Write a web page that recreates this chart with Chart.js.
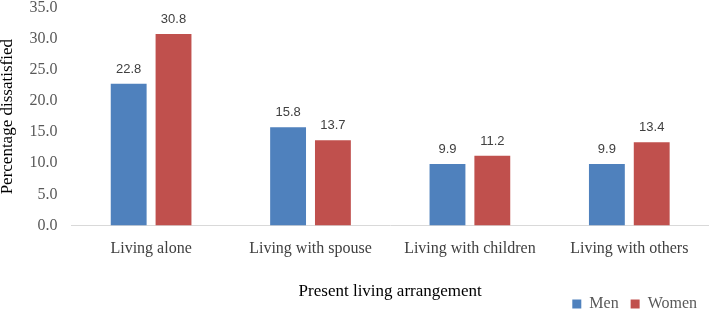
<!DOCTYPE html>
<html lang="en">
<head>
<meta charset="UTF-8">
<title>Living arrangement chart</title>
<script src="https://cdn.jsdelivr.net/npm/chart.js"></script>
<style>
  html, body { margin: 0; padding: 0; background: #ffffff; }
  #wrap { width: 709px; height: 312px; position: relative; }
</style>
</head>
<body>
<div id="wrap"><canvas id="chart"></canvas></div>
<script>
  // chart data
  const categories = ['Living alone', 'Living with spouse', 'Living with children', 'Living with others'];
  const menValues = [22.8, 15.8, 9.9, 9.9];
  const womenValues = [30.8, 13.7, 11.2, 13.4];
  const seriesNames = ['Men', 'Women'];

  const serif = '"Liberation Serif", "Times New Roman", serif';

  // draws the value above each bar
  const valueLabels = {
    id: 'valueLabels',
    afterDatasetsDraw(chart) {
      const ctx = chart.ctx;
      ctx.save();
      ctx.font = '13px "Liberation Sans", Arial, sans-serif';
      ctx.fillStyle = '#404040';
      ctx.textAlign = 'center';
      ctx.textBaseline = 'bottom';
      chart.data.datasets.forEach((ds, i) => {
        chart.getDatasetMeta(i).data.forEach((bar, j) => {
          ctx.fillText(ds.data[j].toFixed(1), bar.x, bar.y - 8);
        });
      });
      ctx.restore();
    }
  };

  new Chart(document.getElementById('chart'), {
    type: 'bar',
    data: {
      labels: categories,
      datasets: [
        { label: seriesNames[0], data: menValues, backgroundColor: '#4F81BD' },
        { label: seriesNames[1], data: womenValues, backgroundColor: '#C0504D' }
      ]
    },
    options: {
      responsive: true,
      maintainAspectRatio: false,
      animation: false,
      layout: { padding: { left: -3, right: 0, top: 0, bottom: 0 } },
      datasets: { bar: { categoryPercentage: 0.5625, barPercentage: 0.8 } },
      scales: {
        x: {
          grid: { display: false, drawTicks: false },
          border: { color: '#d9d9d9', width: 1 },
          ticks: { color: '#404040', font: { family: serif, size: 16 }, padding: 14 },
          title: {
            display: true,
            text: 'Present living arrangement',
            color: '#000000',
            font: { family: serif, size: 17 },
            padding: { top: 9, bottom: -18 }
          }
        },
        y: {
          min: 0,
          max: 35,
          // invisible tick marks give the gap between labels and plot
          grid: { display: false, drawTicks: true, tickLength: 14 },
          border: { display: false },
          ticks: {
            stepSize: 5,
            color: '#595959',
            font: { family: serif, size: 16, lineHeight: 1 },
            padding: 0,
            callback: v => v.toFixed(1)
          },
          title: {
            display: true,
            text: 'Percentage dissatisfied',
            color: '#000000',
            font: { family: serif, size: 17 },
            padding: { top: 0, bottom: 12 }
          }
        }
      },
      plugins: {
        legend: {
          position: 'bottom',
          align: 'end',
          maxHeight: 28,
          labels: {
            boxWidth: 9,
            boxHeight: 9,
            color: '#595959',
            font: { family: serif, size: 16 },
            padding: 12
          }
        },
        tooltip: { enabled: false }
      }
    },
    plugins: [valueLabels]
  });
</script>
</body>
</html>
